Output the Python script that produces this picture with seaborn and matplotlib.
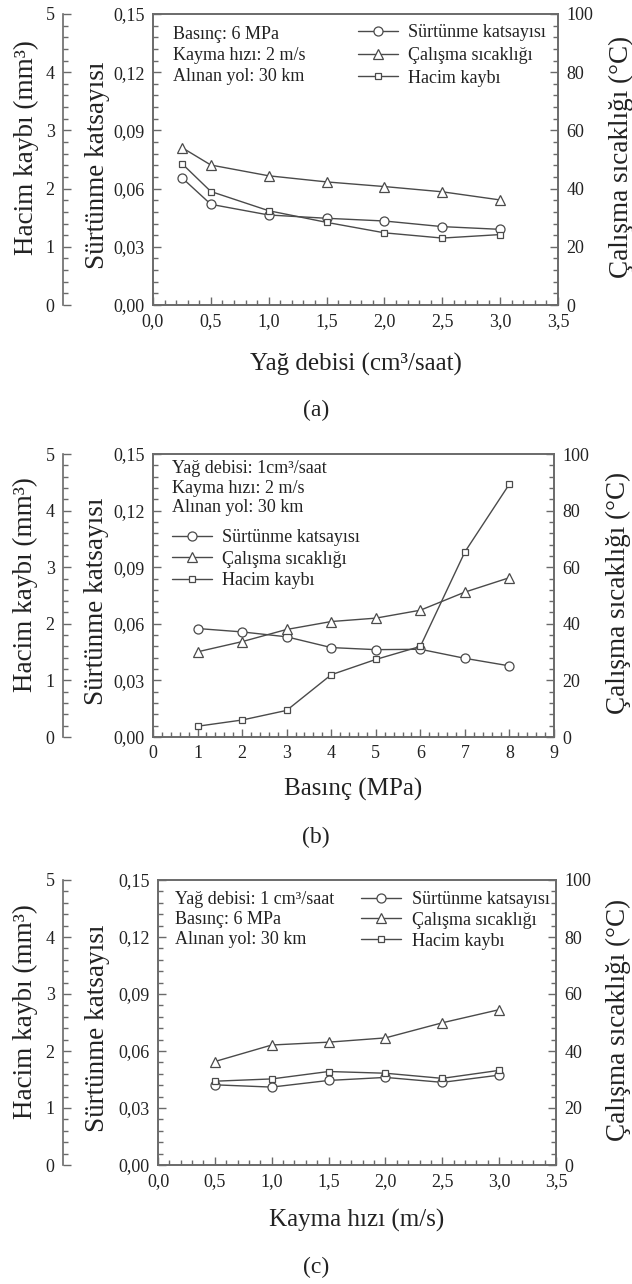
import numpy as np
import pandas as pd
import matplotlib
matplotlib.use("Agg")
import matplotlib.pyplot as plt
import seaborn as sns
from matplotlib.ticker import MultipleLocator, FuncFormatter

# ---------------- data ----------------
series_labels = ["Sürtünme katsayısı", "Çalışma sıcaklığı", "Hacim kaybı"]

a_x = [0.25, 0.5, 1.0, 1.5, 2.0, 2.5, 3.0]
a_friction = [0.0656, 0.0519, 0.0464, 0.0447, 0.0433, 0.0404, 0.0390]
a_temp = [54.1, 48.1, 44.4, 42.3, 40.7, 38.9, 36.1]
a_volume = [2.43, 1.95, 1.62, 1.42, 1.24, 1.15, 1.21]
a_notes = ["Basınç: 6 MPa", "Kayma hızı: 2 m/s", "Alınan yol: 30 km"]
a_xlabel = "Yağ debisi (cm³/saat)"

b_x = [1, 2, 3, 4, 5, 6, 7, 8]
b_friction = [0.0575, 0.0557, 0.0531, 0.0474, 0.0463, 0.0465, 0.0417, 0.0377]
b_temp = [30.1, 33.7, 38.0, 40.8, 42.0, 44.8, 51.2, 56.3]
b_volume = [0.19, 0.30, 0.47, 1.10, 1.37, 1.60, 3.27, 4.47]
b_notes = ["Yağ debisi: 1cm³/saat", "Kayma hızı: 2 m/s", "Alınan yol: 30 km"]
b_xlabel = "Basınç (MPa)"

c_x = [0.5, 1.0, 1.5, 2.0, 2.5, 3.0]
c_friction = [0.0422, 0.0410, 0.0445, 0.0461, 0.0435, 0.0473]
c_temp = [36.3, 42.1, 43.1, 44.6, 49.9, 54.5]
c_volume = [1.47, 1.51, 1.64, 1.61, 1.52, 1.66]
c_notes = ["Yağ debisi: 1 cm³/saat", "Basınç: 6 MPa", "Alınan yol: 30 km"]
c_xlabel = "Kayma hızı (m/s)"

ylabel_volume = "Hacim kaybı (mm³)"
ylabel_friction = "Sürtünme katsayısı"
ylabel_temp = "Çalışma sıcaklığı (°C)"

# ---------------- style ----------------
sns.set_style("ticks")
plt.rcParams["font.family"] = ["Liberation Serif", "DejaVu Serif"]

LC = "#4a4a4a"     # line colour
SPC = "#6a6a6a"    # spine / tick colour
TXT = "#222222"
TICK_FS = 13
LAB_FS = 19.5
XLAB_FS = 18
NOTE_FS = 13

fig = plt.figure(figsize=(6.32, 12.84), dpi=100)


def comma_fmt(dec):
    return FuncFormatter(lambda v, p: f"{v:.{dec}f}".replace(".", ","))


def style_ticks(axis_obj, **kw):
    axis_obj.tick_params(which="both", direction="in", color=SPC, width=1.0,
                         labelcolor=TXT, labelsize=TICK_FS, pad=6, **kw)
    axis_obj.tick_params(which="major", length=6)
    axis_obj.tick_params(which="minor", length=3.5)


def panel(rect, x, fric, temp, vol, xlim, xmaj, xmin, xdec, xlabel, notes,
          note_pos, note_ls, leg_pos, leg_spacing, outward, lab_x, xlab_y, caption, cap_y):
    ax = fig.add_axes(rect)
    ax_t = ax.twinx()
    ax_v = ax.twinx()

    mk = dict(markerfacecolor="white", markeredgecolor=LC, markeredgewidth=0.9,
              linewidth=1.0, color=LC, legend=False, errorbar=None)
    sns.lineplot(x=x, y=fric, ax=ax, marker="o", markersize=6.5, **mk)
    sns.lineplot(x=x, y=temp, ax=ax_t, marker="^", markersize=6.5, **mk)
    sns.lineplot(x=x, y=vol, ax=ax_v, marker="s", markersize=5, **mk)
    handles = [ax.lines[-1], ax_t.lines[-1], ax_v.lines[-1]]

    ax.set_xlim(*xlim)
    ax.set_ylim(0, 0.15)
    ax_t.set_ylim(0, 100)
    ax_v.set_ylim(0, 5)

    ax.xaxis.set_major_locator(MultipleLocator(xmaj))
    ax.xaxis.set_minor_locator(MultipleLocator(xmin))
    ax.xaxis.set_major_formatter(comma_fmt(xdec))
    ax.yaxis.set_major_locator(MultipleLocator(0.03))
    ax.yaxis.set_minor_locator(MultipleLocator(0.006))
    ax.yaxis.set_major_formatter(comma_fmt(2))
    ax_t.yaxis.set_major_locator(MultipleLocator(20))
    ax_t.yaxis.set_minor_locator(MultipleLocator(4))
    ax_v.yaxis.set_major_locator(MultipleLocator(1))
    ax_v.yaxis.set_minor_locator(MultipleLocator(0.2))

    style_ticks(ax, top=False, right=False)
    style_ticks(ax_t, left=False, right=True, labelleft=False, labelright=True)
    ax_v.yaxis.set_ticks_position("left")
    ax_v.yaxis.set_label_position("left")
    style_ticks(ax_v, left=True, right=False, labelleft=True, labelright=False)

    for a in (ax, ax_t, ax_v):
        for s in a.spines.values():
            s.set_color(SPC)
            s.set_linewidth(1.2)
    for s in ("right", "top", "bottom"):
        ax_v.spines[s].set_visible(False)
    ax_v.spines["left"].set_visible(True)
    ax_v.spines["left"].set_position(("outward", outward))

    # labels
    ax.set_xlabel(xlabel, fontsize=XLAB_FS, color=TXT)
    ax.xaxis.label.set_va("center")
    ax.xaxis.set_label_coords(0.5, xlab_y)

    ax.set_ylabel(ylabel_friction, fontsize=LAB_FS, color=TXT)
    ax.yaxis.label.set_va("center")
    ax.yaxis.set_label_coords(lab_x[1], 0.48)

    ax_v.set_ylabel(ylabel_volume, fontsize=LAB_FS, color=TXT)
    ax_v.yaxis.label.set_va("center")
    ax_v.yaxis.set_label_coords(lab_x[0], 0.54)

    ax_t.set_ylabel(ylabel_temp, fontsize=LAB_FS, color=TXT, rotation=90)
    ax_t.yaxis.label.set_va("center")
    ax_t.yaxis.label.set_ha("center")
    ax_t.yaxis.set_label_coords(lab_x[2], 0.51)

    ax_v.text(note_pos[0], note_pos[1], "\n".join(notes), transform=ax.transAxes,
              ha="left", va="top", fontsize=NOTE_FS, color=TXT, linespacing=note_ls)
    ax_v.legend(handles, series_labels, loc="upper left", bbox_to_anchor=leg_pos,
                bbox_transform=ax.transAxes, frameon=False, borderpad=0,
                borderaxespad=0, handlelength=2.2, handletextpad=0.6,
                labelspacing=leg_spacing, fontsize=NOTE_FS, labelcolor=TXT)

    fig.text(0.5, cap_y, caption, ha="center", va="center", fontsize=17, color=TXT)


H = 1284.0
W = 632.0

panel([153 / W, 1 - 305 / H, 405 / W, 291 / H], a_x, a_friction, a_temp, a_volume,
      (0, 3.5), 0.5, 0.1, 1, a_xlabel, a_notes, (0.049, 0.958), 1.28,
      (0.506, 0.965), 0.32,
      64.8, (-0.3136, -0.138, 1.156), -0.206, "(a)", 1 - 410 / H)

panel([153 / W, 1 - 737 / H, 401 / W, 283 / H], b_x, b_friction, b_temp, b_volume,
      (0, 9), 1, 0.2, 0, b_xlabel, b_notes, (0.047, 0.98), 1.22,
      (0.047, 0.735), 0.26,
      64.8, (-0.317, -0.14, 1.16), -0.187, "(b)", 1 - 837 / H)

panel([158 / W, 1 - 1165 / H, 398 / W, 285 / H], c_x, c_friction, c_temp, c_volume,
      (0, 3.5), 0.5, 0.1, 1, c_xlabel, c_notes, (0.043, 0.962), 1.22,
      (0.51, 0.962), 0.22,
      68.4, (-0.332, -0.153, 1.156), -0.193, "(c)", 1 - 1267 / H)

fig.savefig("out.png", dpi=100)
